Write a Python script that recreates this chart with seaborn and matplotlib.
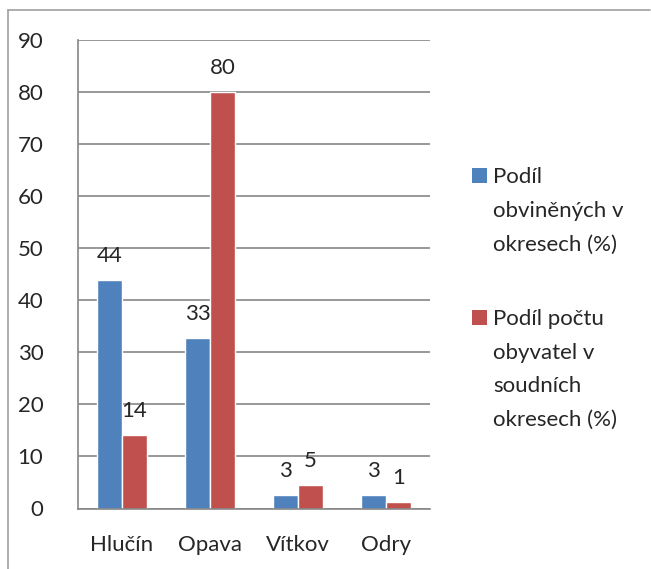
"""
Podíl obviněných vs. podíl počtu obyvatel v soudních okresech.
"""

import pandas as pd
import matplotlib.pyplot as plt
import seaborn as sns
from matplotlib.lines import Line2D
from matplotlib.patches import Rectangle
from matplotlib.ticker import FixedLocator

districts = ["Hlučín", "Opava", "Vítkov", "Odry"]
accused_share = [43.9, 32.7, 2.6, 2.6]
population_share = [14.2, 80.0, 4.6, 1.2]
series_names = [
    "Podíl\nobviněných v\nokresech (%)",
    "Podíl počtu\nobyvatel v\nsoudních\nokresech (%)",
]
y_ticks = [0, 10, 20, 30, 40, 50, 60, 70, 80, 90]

BLUE = "#4F81BD"
RED = "#C0504D"
GREY = "#868686"
FS = 16

df = pd.DataFrame({
    "district": districts * 2,
    "value": accused_share + population_share,
    "series": [series_names[0]] * 4 + [series_names[1]] * 4,
})

sns.set_style("white")
plt.rcParams["font.family"] = ["Lato", "DejaVu Sans"]

W, H = 651, 569
fig = plt.figure(figsize=(W / 100, H / 100), dpi=100)
ax = fig.add_axes([78 / W, 1 - 508.5 / H, 352 / W, 468.5 / H])

sns.barplot(
    data=df, x="district", y="value", hue="series",
    palette=[BLUE, RED], width=0.57, saturation=1, ax=ax, legend=False,
)

for cont in ax.containers:
    ax.bar_label(cont, labels=[f"{b.get_height():.0f}" for b in cont],
                 padding=10, fontsize=FS)

ax.set_ylim(0, 90)
ax.set_xlim(-0.5, 3.5)
ax.set_yticks(y_ticks)
ax.yaxis.grid(True, color=GREY, linewidth=1.2)
ax.set_axisbelow(True)
ax.set_xlabel("")
ax.set_ylabel("")

for side in ["top", "right"]:
    ax.spines[side].set_visible(False)
for side in ["left", "bottom"]:
    ax.spines[side].set_color(GREY)
    ax.spines[side].set_linewidth(1.2)

ax.tick_params(axis="y", length=6, width=1.2, color=GREY, pad=19, labelsize=FS)
ax.tick_params(axis="x", which="major", length=0, pad=19, labelsize=FS)
ax.xaxis.set_minor_locator(FixedLocator([-0.5, 0.5, 1.5, 2.5, 3.5]))
ax.tick_params(axis="x", which="minor", length=6, width=1.2, color=GREY)

# legend drawn Excel-style: square next to the first line of each entry
legend_rows = [(183, BLUE), (325, RED)]
line_step = 33.7
for (base_y, color), name in zip(legend_rows, series_names):
    fig.patches.append(Rectangle(
        (472 / W, 1 - base_y / H), 15 / W, 15 / H,
        transform=fig.transFigure, facecolor=color, edgecolor="none",
    ))
    for i, line in enumerate(name.split("\n")):
        fig.text(493 / W, 1 - (base_y + i * line_step) / H, line,
                 ha="left", va="baseline", fontsize=FS)

# chart frame lines (top and left)
fig.add_artist(Line2D([8 / W, 650 / W], [1 - 10 / H] * 2, color="#A0A0A0", lw=1.2))
fig.add_artist(Line2D([8 / W] * 2, [0, 1 - 10 / H], color="#A0A0A0", lw=1.2))

fig.savefig("out.png", dpi=100)
